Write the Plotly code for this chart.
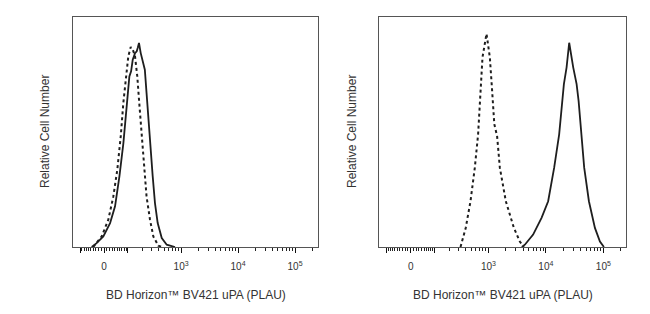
import numpy as np
import plotly.graph_objects as go

# ---------------- data (fluorescence intensity, relative count %) ----------------
left_stained_x = [-46, -27, -2.5, 22, 41, 59, 77, 93, 108, 118, 128, 143, 155, 162, 172,
                  186, 202, 223, 240, 257, 278, 312, 343, 384, 454, 557, 781]
left_stained_y = [0, 1.7, 4.6, 10.4, 17.7, 30.7, 45.2, 59.7, 74.2, 76.4, 81.4, 84.3, 85.1, 86.5, 88.7,
                  84.3, 81.4, 77.1, 67, 56.8, 45.2, 30.7, 19.1, 10.4, 3.9, 1.0, 0]
left_control_x = [-40, -8.3, 15.6, 34.3, 50.1, 64.8, 76.7, 90, 102, 116, 132, 143, 159, 174,
                  194, 214, 240, 278, 320, 394, 454]
left_control_y = [0, 4.6, 11.9, 22, 33.6, 48.1, 62.6, 74.2, 82.9, 87, 85.1, 82.9, 74.2, 62.6,
                  48.1, 33.6, 22, 11.9, 4.6, 0.6, 0]

right_control_x = [321, 399, 484, 577, 659, 726, 787, 925, 1057, 1159, 1266, 1416, 1580,
                   2009, 2769, 3524, 4134]
right_control_y = [0, 8.4, 19.9, 34.5, 49, 68, 82.5, 92.7, 82.5, 68, 53.4, 48.2, 34.5,
                   19.9, 8.4, 2.4, 0]
right_stained_x = [3818, 4307, 6004, 8411, 10963, 13947, 17040, 19548, 20590, 22940, 25454,
                   29904, 34265, 37113, 41874, 46458, 56115, 71378, 87265, 102400]
right_stained_y = [0, 1.0, 5.4, 12.7, 19.9, 34.5, 49, 63.5, 70.8, 78.1, 88.8,
                   78.1, 70.8, 63.5, 49, 34.5, 19.9, 8.3, 2.4, 0]

major_ticks = [-100, 0, 100, 1000, 10000, 100000]
major_labels = ["", "0", "", "10<sup>3</sup>", "10<sup>4</sup>", "10<sup>5</sup>"]
minor_ticks = ([-v for v in range(10, 100, 10)] + list(range(10, 100, 10)) +
               list(range(200, 1000, 100)) + list(range(2000, 10000, 1000)) +
               list(range(20000, 100000, 10000)) + [200000])

x_title = "BD Horizon™ BV421 uPA (PLAU)"
y_title = "Relative Cell Number"

# biexponential-like display transform (arcsinh scale, in decades)
W = 89.0
def tr(v):
    return np.arcsinh(np.asarray(v, dtype=float) / W) / np.log(10)

fig = go.Figure()
line_col = "#1e1e1e"
fig.add_trace(go.Scatter(x=tr(left_control_x), y=left_control_y, mode="lines",
                         line=dict(color=line_col, width=2, dash="dot"), xaxis="x", yaxis="y"))
fig.add_trace(go.Scatter(x=tr(left_stained_x), y=left_stained_y, mode="lines",
                         line=dict(color=line_col, width=1.8), xaxis="x", yaxis="y"))
fig.add_trace(go.Scatter(x=tr(right_control_x), y=right_control_y, mode="lines",
                         line=dict(color=line_col, width=2, dash="dot"), xaxis="x2", yaxis="y2"))
fig.add_trace(go.Scatter(x=tr(right_stained_x), y=right_stained_y, mode="lines",
                         line=dict(color=line_col, width=1.8), xaxis="x2", yaxis="y2"))

W_PX, H_PX = 650, 314
def xd(a, b):
    return [a / W_PX, b / W_PX]
ydom = [1 - 247 / H_PX, 1 - 17 / H_PX]

axis_common = dict(
    tickmode="array", tickvals=list(tr(major_ticks)), ticktext=major_labels,
    ticks="outside", ticklen=5, tickwidth=1.2, tickcolor="#111",
    minor=dict(tickvals=list(tr(minor_ticks)), ticks="outside", ticklen=3, tickwidth=1, tickcolor="#222"),
    showline=True, mirror=True, linecolor="#555", linewidth=1,
    showgrid=False, zeroline=False, ticklabelstandoff=5,
    tickfont=dict(family="Liberation Sans, Arial", size=10, color="#333"),
)
yaxis_common = dict(range=[0, 100], showticklabels=False, ticks="", showline=True, mirror=True,
                    linecolor="#555", linewidth=1, showgrid=False, zeroline=False, fixedrange=True)

fig.update_layout(
    width=W_PX, height=H_PX, margin=dict(l=0, r=0, t=0, b=0),
    paper_bgcolor="white", plot_bgcolor="white", showlegend=False,
    xaxis=dict(domain=xd(73, 318), range=[-0.544, 3.754], anchor="y", **axis_common),
    yaxis=dict(domain=ydom, anchor="x", **yaxis_common),
    xaxis2=dict(domain=xd(379, 626), range=[-0.552, 3.746], anchor="y2", **axis_common),
    yaxis2=dict(domain=ydom, anchor="x2", **yaxis_common),
)

font_t = dict(family="Liberation Sans, Arial", size=12, color="#333")
for cx, cy_x in [(195.5, 45), (502.5, 352)]:
    fig.add_annotation(text=x_title, x=cx / W_PX, y=1 - 295 / H_PX, xref="paper", yref="paper",
                       showarrow=False, font=font_t, xanchor="center", yanchor="middle")
    fig.add_annotation(text=y_title, x=cy_x / W_PX, y=1 - 132 / H_PX, xref="paper", yref="paper",
                       showarrow=False, font=font_t, textangle=-90, xanchor="center", yanchor="middle")

fig.write_html("out.html")
